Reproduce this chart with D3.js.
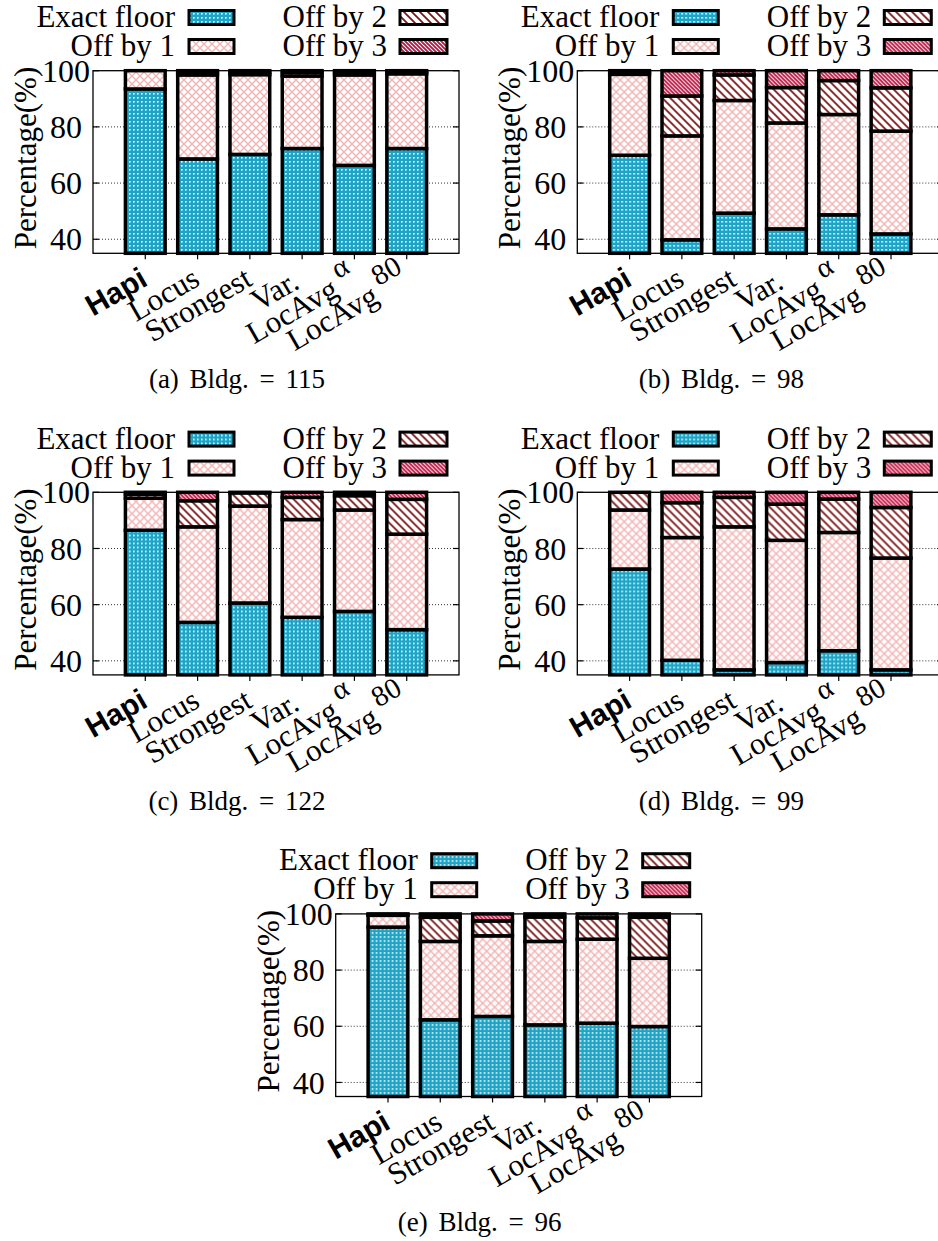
<!DOCTYPE html>
<html><head><meta charset="utf-8">
<script src="https://cdn.jsdelivr.net/npm/d3@7"></script>
<style>body{margin:0;background:#fff}svg{display:block}</style>
</head><body><svg id="c" width="938" height="1241"></svg>
<script>
// ---------- data ----------
const categories = ["Hapi", "Locus", "Strongest", "Var.", "LocAvg", "LocAvg"];
const categorySup = ["", "", "", "", "α", "80"];
const seriesNames = ["Exact floor", "Off by 1", "Off by 2", "Off by 3"];
const yTicks = [40, 60, 80, 100];
const captions = ["(a) Bldg. = 115", "(b) Bldg. = 98", "(c) Bldg. = 122", "(d) Bldg. = 99", "(e) Bldg. = 96"];

// Bldg 115
const exact115 = [93.5, 68.6, 70.2, 72.3, 66.3, 72.3];
const off1_115 = [6.5, 29.9, 28.4, 25.8, 32.2, 26.6];
const off2_115 = [0, 1.0, 0.9, 1.3, 1.0, 0.7];
const off3_115 = [0, 0.5, 0.5, 0.6, 0.5, 0.4];
// Bldg 98
const exact98 = [69.9, 39.8, 49.3, 43.7, 48.7, 41.9];
const off1_98 = [28.8, 37.0, 40.1, 37.7, 35.7, 36.6];
const off2_98 = [0.8, 14.2, 9.1, 12.6, 12.1, 15.4];
const off3_98 = [0.5, 9.0, 1.5, 6.0, 3.5, 6.1];
// Bldg 122
const exact122 = [86.5, 53.7, 60.6, 55.5, 57.6, 51.1];
const off1_122 = [11.4, 34.0, 34.5, 34.8, 36.1, 34.0];
const off2_122 = [1.4, 9.3, 4.7, 7.9, 5.1, 12.4];
const off3_122 = [0.7, 3.0, 0.2, 1.8, 1.2, 2.5];
// Bldg 99
const exact99 = [72.7, 40.2, 36.8, 39.4, 43.6, 36.8];
const off1_99 = [21.0, 43.7, 50.9, 43.5, 42.1, 39.8];
const off2_99 = [6.3, 12.4, 10.5, 12.9, 11.9, 18.0];
const off3_99 = [0, 3.7, 1.8, 4.2, 2.4, 5.4];
// Bldg 96
const exact96 = [95.3, 62.3, 63.5, 60.5, 61.1, 59.9];
const off1_96 = [4.2, 27.9, 28.7, 29.7, 29.9, 24.3];
const off2_96 = [0.3, 8.6, 5.3, 8.7, 7.6, 14.6];
const off3_96 = [0.2, 1.2, 2.5, 1.1, 1.4, 1.2];

const panelSeries = [
  [exact115, off1_115, off2_115, off3_115],
  [exact98, off1_98, off2_98, off3_98],
  [exact122, off1_122, off2_122, off3_122],
  [exact99, off1_99, off2_99, off3_99],
  [exact96, off1_96, off2_96, off3_96]
];

// ---------- layout ----------
const origins = [[0, 0], [484.3, 0], [0, 421.6], [484.3, 421.6], [242.7, 843.2]];
const frameLeft = 93, frameTop = 70.7, frameW = 366, frameBottom = 253.3;
const labelShift = [0, 0, 0, -6, 0, 0];
const patternIds = ["pExact", "pOff1", "pOff2", "pOff3"];
const serif = "'Liberation Serif','Times New Roman',serif";
const sans = "'Liberation Sans',Arial,sans-serif";

const svg = d3.select("#c");
svg.append("rect").attr("width", 938).attr("height", 1241).attr("fill", "#fff");

// ---------- patterns ----------
const defs = svg.append("defs");
{
  const p = defs.append("pattern").attr("id", "pExact").attr("patternUnits", "userSpaceOnUse")
    .attr("width", 4).attr("height", 4);
  p.append("rect").attr("width", 4).attr("height", 4).attr("fill", "#1ca5c6");
  p.append("rect").attr("x", 1).attr("y", 1).attr("width", 1.6).attr("height", 1.6).attr("fill", "#fff");
}
{
  const p = defs.append("pattern").attr("id", "pOff1").attr("patternUnits", "userSpaceOnUse")
    .attr("width", 8).attr("height", 8);
  p.append("rect").attr("width", 8).attr("height", 8).attr("fill", "#fff");
  p.append("path").attr("d", "M-1,-1L9,9M9,-1L-1,9").attr("stroke", "#f3b3b3").attr("stroke-width", 1.4).attr("fill", "none");
}
{
  const s = 8;
  const p = defs.append("pattern").attr("id", "pOff2").attr("patternUnits", "userSpaceOnUse")
    .attr("width", s).attr("height", s);
  p.append("rect").attr("width", s).attr("height", s).attr("fill", "#fff");
  p.append("path").attr("d", `M-1,-1L${s+1},${s+1}M-1,${s-1}L1,${s+1}M${s-1},-1L${s+1},1`)
    .attr("stroke", "#7d1616").attr("stroke-width", 1.8).attr("fill", "none");
}
{
  const s = 4;
  const p = defs.append("pattern").attr("id", "pOff3").attr("patternUnits", "userSpaceOnUse")
    .attr("width", s).attr("height", s);
  p.append("rect").attr("width", s).attr("height", s).attr("fill", "#fff");
  p.append("path").attr("d", `M-1,-1L${s+1},${s+1}M-1,${s-1}L1,${s+1}M${s-1},-1L${s+1},1`)
    .attr("stroke", "#c4103f").attr("stroke-width", 1.9).attr("fill", "none");
}

// ---------- panels ----------
panelSeries.forEach((series, pi) => {
  const [ox, oy] = origins[pi];
  const g = svg.append("g").attr("transform", `translate(${ox},${oy})`);
  const L = frameLeft, T = frameTop, R = frameLeft + frameW, B = frameBottom;

  const x = d3.scaleLinear().domain([-1, 6]).range([L, R]);
  const y = d3.scaleLinear().domain([35, 100]).range([B, T]);
  const barW = (x(1) - x(0)) * 0.76;

  // grid
  g.append("g").selectAll("line").data(yTicks.filter(v => v < 100)).join("line")
    .attr("x1", L).attr("x2", R).attr("y1", d => y(d)).attr("y2", d => y(d))
    .attr("stroke", "#333").attr("stroke-width", 1).attr("stroke-dasharray", "1,2");

  // stacked bars
  const rows = categories.map((c, i) => {
    const o = { i };
    seriesNames.forEach((s, k) => o[s] = series[k][i]);
    return o;
  });
  const stack = d3.stack().keys(seriesNames)(rows);
  stack.forEach((layer, k) => {
    g.append("g").selectAll("rect").data(layer.filter(d => d[1] - d[0] > 0)).join("rect")
      .attr("x", d => x(d.data.i) - barW / 2)
      .attr("width", barW)
      .attr("y", d => y(d[1]))
      .attr("height", d => y(Math.max(35, d[0])) - y(d[1]))
      .attr("fill", `url(#${patternIds[k]})`)
      .attr("stroke", "#000").attr("stroke-width", 3.5);
  });

  // frame
  g.append("rect").attr("x", L).attr("y", T).attr("width", R - L).attr("height", B - T)
    .attr("fill", "none").attr("stroke", "#000").attr("stroke-width", 1.3);

  // y ticks + labels
  yTicks.forEach(v => {
    g.append("line").attr("x1", L).attr("x2", L + 6).attr("y1", y(v)).attr("y2", y(v)).attr("stroke", "#000").attr("stroke-width", 1.2);
    g.append("line").attr("x1", R - 6).attr("x2", R).attr("y1", y(v)).attr("y2", y(v)).attr("stroke", "#000").attr("stroke-width", 1.2);
    g.append("text").attr("x", L - 27).attr("y", y(v)).attr("dy", "0.35em")
      .attr("text-anchor", "middle").attr("font-family", serif).attr("font-size", 32).text(v);
  });

  // y label
  g.append("text").attr("transform", `translate(${L - 57},158) rotate(-90)`)
    .attr("text-anchor", "middle").attr("font-family", serif).attr("font-size", 31).text("Percentage(%)");

  // x ticks + labels
  categories.forEach((c, i) => {
    g.append("line").attr("x1", x(i)).attr("x2", x(i)).attr("y1", B).attr("y2", B + 6)
      .attr("stroke", "#000").attr("stroke-width", 1.2);
    const t = g.append("text")
      .attr("transform", `translate(${x(i) + 4},${B + 31}) rotate(-30)`)
      .attr("text-anchor", "end")
      .attr("dx", labelShift[i])
      .attr("font-size", 31);
    if (i === 0) {
      t.attr("font-family", sans).attr("font-weight", "bold").attr("font-size", 30).text(c);
    } else {
      t.attr("font-family", serif);
      t.append("tspan").text(c);
      if (categorySup[i]) t.append("tspan").attr("dx", 6).attr("dy", "-0.5em").attr("font-size", 29).text(categorySup[i]);
    }
  });

  // legend
  const legendCols = [
    { textEnd: L + 82, boxX: L + 96, boxW: 45 },
    { textEnd: L + 294, boxX: L + 307, boxW: 47 }
  ];
  const legendRows = [27, 56];
  seriesNames.forEach((s, k) => {
    const col = legendCols[k >> 1], row = legendRows[k & 1];
    g.append("text").attr("x", col.textEnd).attr("y", row).attr("text-anchor", "end")
      .attr("font-family", serif).attr("font-size", 31).text(s);
    g.append("rect").attr("x", col.boxX).attr("y", row - 16.5).attr("width", col.boxW).attr("height", 14)
      .attr("fill", `url(#${patternIds[k]})`).attr("stroke", "#000").attr("stroke-width", 3);
  });

  // caption
  g.append("text").attr("x", L + 144).attr("y", 388).attr("text-anchor", "middle")
    .attr("font-family", serif).attr("font-size", 27).attr("word-spacing", 4).text(captions[pi]);
});
</script></body></html>
